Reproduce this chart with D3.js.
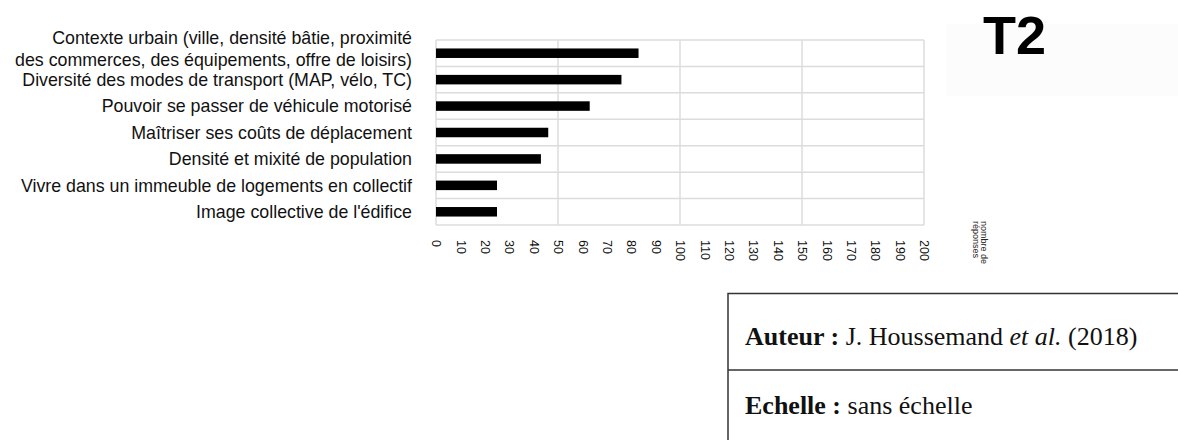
<!DOCTYPE html>
<html lang="fr">
<head>
<meta charset="utf-8">
<script src="https://cdn.jsdelivr.net/npm/d3@7"></script>
<style>
  html, body { margin: 0; padding: 0; background: #fff; }
  svg { display: block; }
</style>
</head>
<body>
<svg id="chart" width="1178" height="440"></svg>
<script>
// Critères cités (chaque libellé peut tenir sur plusieurs lignes)
const categories = [
  ["Contexte urbain (ville, densité bâtie, proximité", "des commerces, des équipements, offre de loisirs)"],
  ["Diversité des modes de transport (MAP, vélo, TC)"],
  ["Pouvoir se passer de véhicule motorisé"],
  ["Maîtriser ses coûts de déplacement"],
  ["Densité et mixité de population"],
  ["Vivre dans un immeuble de logements en collectif"],
  ["Image collective de l'édifice"]
];
// Nombre de réponses par critère
const responses = [83, 76, 63, 46, 43, 25, 25];
// Graduations de l'axe des réponses
const tickValues = d3.range(0, 201, 10);
const gridValues = [0, 50, 100, 150, 200];
const axisTitle = ["nombre de", "réponses"];
const panelTitle = "T2";
const creditLines = [
  { bold: "Auteur : ", parts: [["J. Houssemand ", "normal"], ["et al.", "italic"], [" (2018)", "normal"]] },
  { bold: "Echelle : ", parts: [["sans échelle", "normal"]] }
];

const svg = d3.select("#chart");
const keys = categories.map((c, i) => i);

const x = d3.scaleLinear().domain([0, 200]).range([436, 924]);
const y = d3.scaleBand().domain(keys).range([40, 225]).padding(0);

const plot = svg.append("g");

// Quadrillage horizontal (limites des bandes)
const hLines = keys.map(k => y(k)).concat([y.range()[1]]);
plot.selectAll("line.h").data(hLines).join("line")
  .attr("class", "h")
  .attr("x1", x(0)).attr("x2", x(200))
  .attr("y1", d => d).attr("y2", d => d)
  .attr("stroke", "#dcdcdc").attr("stroke-width", 1.5);

// Quadrillage vertical
plot.selectAll("line.v").data(gridValues).join("line")
  .attr("class", "v")
  .attr("x1", d => x(d)).attr("x2", d => x(d))
  .attr("y1", y.range()[0]).attr("y2", y.range()[1])
  .attr("stroke", "#dcdcdc").attr("stroke-width", 1.5);

// Barres
const barH = y.bandwidth() * 0.36;
plot.selectAll("rect.bar").data(responses).join("rect")
  .attr("class", "bar")
  .attr("x", x(0))
  .attr("y", (d, i) => y(i) + y.bandwidth() / 2 - barH / 2)
  .attr("width", d => x(d) - x(0))
  .attr("height", barH)
  .attr("fill", "#000");

// Libellés des critères, alignés à droite et centrés sur chaque barre
const labelFont = "'Liberation Sans', Arial, sans-serif";
const lineH = 22;
const labels = svg.append("g")
  .attr("font-family", labelFont)
  .attr("font-size", 17.8)
  .attr("fill", "#111")
  .attr("text-anchor", "end");
categories.forEach((lines, i) => {
  const cy = y(i) + y.bandwidth() / 2 - (lines.length > 1 ? 4 : 0);
  const t = labels.append("text");
  lines.forEach((ln, j) => {
    t.append("tspan")
      .attr("x", 412)
      .attr("y", cy - (lines.length - 1) * lineH / 2 + j * lineH)
      .attr("dy", "0.35em")
      .text(ln);
  });
});

// Axe des réponses, graduations verticales
const axis = d3.axisBottom(x).tickValues(tickValues).tickSize(0).tickPadding(0).tickFormat(d3.format("d"));
const axisG = svg.append("g").attr("transform", "translate(0,240)").call(axis);
axisG.select(".domain").remove();
axisG.selectAll("text")
  .attr("font-family", "'Liberation Sans', Arial, sans-serif")
  .attr("font-size", 12.5)
  .attr("fill", "#111")
  .attr("text-anchor", "start")
  .attr("dy", "0.35em")
  .attr("y", 0)
  .attr("transform", "rotate(90)");

// Titre de l'axe, pivoté
const at = svg.append("text")
  .attr("transform", "translate(980,221) rotate(90)")
  .attr("font-family", "'Liberation Sans', Arial, sans-serif")
  .attr("font-size", 9)
  .attr("fill", "#222");
axisTitle.forEach((ln, j) => {
  at.append("tspan").attr("x", 0).attr("y", j === 0 ? -1 : 7.5).text(ln);
});

// Cartouche "T2"
svg.append("rect").attr("x", 946).attr("y", 24).attr("width", 232).attr("height", 72).attr("fill", "#fcfcfc");
svg.append("text")
  .attr("x", 983).attr("y", 54)
  .attr("font-family", "'Liberation Sans', Arial, sans-serif")
  .attr("font-weight", "bold")
  .attr("font-size", 54)
  .attr("fill", "#000")
  .text(panelTitle);

// Encadré des sources
const box = svg.append("g");
box.append("path")
  .attr("d", "M1180,293.5 H728 V442")
  .attr("fill", "none").attr("stroke", "#333").attr("stroke-width", 1.5);
box.append("line")
  .attr("x1", 728).attr("x2", 1180).attr("y1", 370).attr("y2", 370)
  .attr("stroke", "#333").attr("stroke-width", 1.5);
creditLines.forEach((c, i) => {
  const t = box.append("text")
    .attr("x", 745).attr("y", 345 + i * 69)
    .attr("font-family", "'Liberation Serif', 'Times New Roman', serif")
    .attr("font-size", 26)
    .attr("fill", "#111");
  t.append("tspan").attr("font-weight", "bold").text(c.bold);
  c.parts.forEach(p => t.append("tspan").attr("font-style", p[1]).text(p[0]));
});
</script>
</body>
</html>
